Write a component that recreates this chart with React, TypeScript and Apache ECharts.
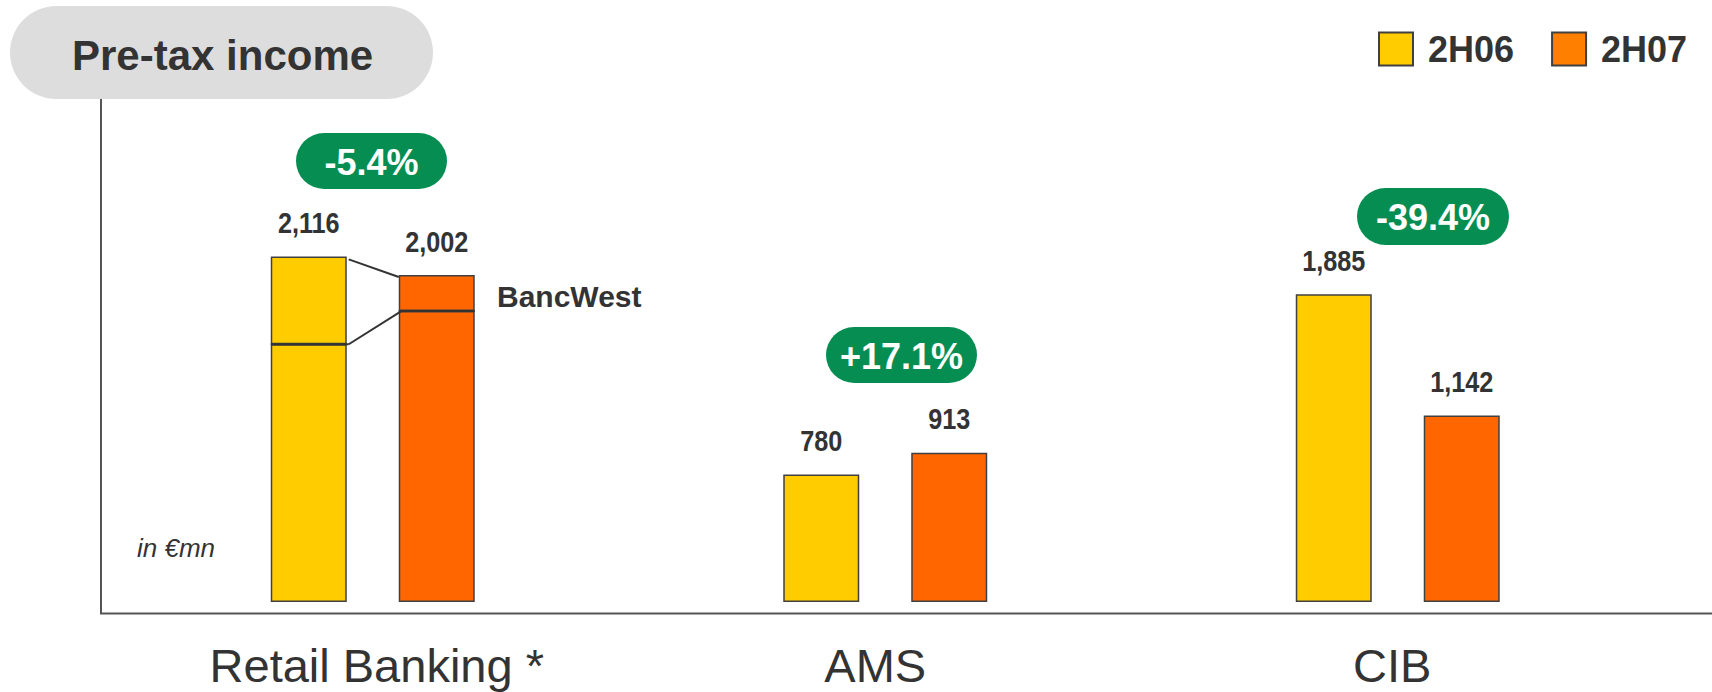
import React, { useEffect, useRef } from "react";
import * as echarts from "echarts";

const categories = ["Retail Banking *", "AMS", "CIB"];
const h06Total = [2116, 780, 1885];
const h07Total = [2002, 913, 1142];
const bancWest06: (number | null)[] = [538, null, null];
const bancWest07: (number | null)[] = [220, null, null];
const changes = ["-5.4%", "+17.1%", "-39.4%"];
const seriesNames = ["2H06", "2H07"];

const YELLOW = "#FFCC00";
const ORANGE = "#FF6600";
const LEGEND_ORANGE = "#FF8000";
const GREEN = "#068E52";
const DARK = "#333333";
const BORDER = "#404040";
const BAR_W = 76;
const BAR_GAP = 52;
const FONT = "'Liberation Sans', Arial, sans-serif";

const fmt = (v: number) => v.toLocaleString("en-US");

export default function App() {
  const ref = useRef<HTMLDivElement>(null);
  useEffect(() => {
    if (!ref.current) return;
    const chart = echarts.init(ref.current, null, { renderer: "svg" });
    const base06 = h06Total.map((t, i) => t - (bancWest06[i] ?? 0));
    const base07 = h07Total.map((t, i) => t - (bancWest07[i] ?? 0));
    const itemStyle = (c: string) => ({ color: c, borderColor: BORDER, borderWidth: 1.5 });
    const half = (BAR_W + BAR_GAP) / 2;
    const gapPct = ((BAR_GAP / BAR_W) * 100).toFixed(1) + "%";

    const pills = [
      { x: 296, y: 133, w: 151, h: 56 },
      { x: 826, y: 327, w: 151, h: 56 },
      { x: 1357, y: 188, w: 152, h: 57 },
    ];

    const catStyle = (pad: number[]) => ({
      fontFamily: FONT,
      fontSize: 47,
      lineHeight: 47,
      color: DARK,
      padding: pad,
    });

    const labelText = (text: string, x: number, y: number) => ({
      type: "text",
      x,
      y,
      scaleX: 0.87,
      style: {
        text,
        fontFamily: FONT,
        fontWeight: "bold",
        fontSize: 29,
        fill: DARK,
        align: "center",
        verticalAlign: "middle",
      },
    });

    chart.setOption({
      animation: false,
      grid: { left: 116.5, right: 58, top: 100, bottom: 78, containLabel: false },
      legend: {
        left: 1378,
        top: 31,
        padding: 0,
        itemWidth: 34,
        itemHeight: 33,
        itemGap: 37,
        icon: "rect",
        textStyle: {
          fontFamily: FONT,
          fontWeight: "bold",
          fontSize: 36,
          lineHeight: 36,
          color: DARK,
          padding: [0, 0, 0, 10],
        },
        data: [
          { name: seriesNames[0], itemStyle: { color: YELLOW, borderColor: BORDER, borderWidth: 2 } },
          { name: seriesNames[1], itemStyle: { color: LEGEND_ORANGE, borderColor: BORDER, borderWidth: 2 } },
        ],
      },
      xAxis: {
        type: "category",
        data: categories,
        axisLine: { show: false },
        axisTick: { show: false },
        axisLabel: {
          interval: 0,
          hideOverlap: false,
          margin: 28,
          fontFamily: FONT,
          fontSize: 47,
          lineHeight: 47,
          color: DARK,
          formatter: (v: string, i: number) => `{c${i}|${v}}`,
          rich: {
            c0: catStyle([0, 0, 0, 8]),
            c1: catStyle([0, 20, 0, 0]),
            c2: catStyle([0, 11, 0, 0]),
          },
        },
      },
      yAxis: {
        type: "value",
        min: -74,
        max: 3074,
        show: false,
        splitLine: { show: false },
      },
      series: [
        {
          type: "bar",
          name: seriesNames[0],
          stack: "h06",
          barWidth: BAR_W,
          barGap: gapPct,
          data: base06,
          itemStyle: itemStyle(YELLOW),
        },
        {
          type: "bar",
          name: seriesNames[0],
          stack: "h06",
          barWidth: BAR_W,
          barGap: gapPct,
          data: bancWest06.map((v) => (v == null ? "-" : v)),
          itemStyle: itemStyle(YELLOW),
        },
        {
          type: "bar",
          name: seriesNames[1],
          stack: "h07",
          barWidth: BAR_W,
          barGap: gapPct,
          data: base07,
          itemStyle: itemStyle(ORANGE),
        },
        {
          type: "bar",
          name: seriesNames[1],
          stack: "h07",
          barWidth: BAR_W,
          barGap: gapPct,
          data: bancWest07.map((v) => (v == null ? "-" : v)),
          itemStyle: itemStyle(ORANGE),
        },
        {
          type: "custom",
          name: "valueLabels",
          z: 6,
          data: categories.map((_, i) => [i, h06Total[i], h07Total[i]]),
          encode: { x: 0, y: 1 },
          renderItem: (params: any, api: any) => {
            const cat = api.value(0);
            const x0 = api.coord([cat, 0])[0];
            const y6 = api.coord([cat, api.value(1)])[1];
            const y7 = api.coord([cat, api.value(2)])[1];
            return {
              type: "group",
              children: [
                labelText(fmt(api.value(1)), x0 - half, y6 - 33.5),
                labelText(fmt(api.value(2)), x0 + half, y7 - 33.5),
              ],
            };
          },
        },
        {
          type: "custom",
          name: "connectors",
          z: 5,
          data: categories
            .map((_, i) =>
              bancWest06[i] == null ? null : [i, h06Total[i], h07Total[i], base06[i], base07[i]]
            )
            .filter((d) => d != null),
          encode: { x: 0, y: 1 },
          renderItem: (params: any, api: any) => {
            const cat = api.value(0);
            const x0 = api.coord([cat, 0])[0];
            const yT6 = api.coord([cat, api.value(1)])[1];
            const yT7 = api.coord([cat, api.value(2)])[1];
            const yS6 = api.coord([cat, api.value(3)])[1];
            const yS7 = api.coord([cat, api.value(4)])[1];
            const xa = x0 - half + BAR_W / 2 + 2;
            const xb = x0 + half - BAR_W / 2;
            const st = { stroke: "#333", lineWidth: 2 };
            return {
              type: "group",
              children: [
                { type: "line", shape: { x1: xa, y1: yT6 + 3, x2: xb, y2: yT7 + 2 }, style: st },
                { type: "line", shape: { x1: xa, y1: yS6, x2: xb + 3, y2: yS7 }, style: st },
                { type: "line", shape: { x1: x0 - half - BAR_W / 2, y1: yS6, x2: xa, y2: yS6 }, style: st },
                { type: "line", shape: { x1: xb, y1: yS7, x2: x0 + half + BAR_W / 2, y2: yS7 }, style: st },
              ],
            };
          },
        },
      ],
      graphic: [
        { type: "line", z: 1, shape: { x1: 101, y1: 97, x2: 101, y2: 614 }, style: { stroke: "#555", lineWidth: 2 } },
        { type: "line", z: 1, shape: { x1: 100, y1: 613.5, x2: 1712, y2: 613.5 }, style: { stroke: "#555", lineWidth: 2 } },
        {
          type: "rect",
          z: 10,
          shape: { x: 10, y: 6, width: 423, height: 93, r: 46.5 },
          style: { fill: "#DDDDDD" },
        },
        {
          type: "text",
          z: 11,
          x: 72,
          y: 55,
          style: {
            text: "Pre-tax income",
            fontFamily: FONT,
            fontWeight: "bold",
            fontSize: 42,
            fill: DARK,
            verticalAlign: "middle",
          },
        },
        ...pills.flatMap((p, i) => [
          {
            type: "rect",
            z: 10,
            shape: { x: p.x, y: p.y, width: p.w, height: p.h, r: p.h / 2 },
            style: { fill: GREEN },
          },
          {
            type: "text",
            z: 11,
            x: p.x + p.w / 2,
            y: p.y + p.h / 2 + 1,
            style: {
              text: changes[i],
              fontFamily: FONT,
              fontWeight: "bold",
              fontSize: 36,
              fill: "#FFFFFF",
              align: "center",
              verticalAlign: "middle",
            },
          },
        ]),
        {
          type: "text",
          z: 11,
          x: 497,
          y: 296.5,
          style: {
            text: "BancWest",
            fontFamily: FONT,
            fontWeight: "bold",
            fontSize: 30,
            fill: DARK,
            verticalAlign: "middle",
          },
        },
        {
          type: "text",
          z: 11,
          x: 137,
          y: 548,
          style: {
            text: "in €mn",
            fontFamily: FONT,
            fontStyle: "italic",
            fontSize: 26,
            fill: DARK,
            verticalAlign: "middle",
          },
        },
      ],
    });
    return () => chart.dispose();
  }, []);
  return (
    <div
      ref={ref}
      style={{ position: "fixed", left: 0, top: 0, width: 1712, height: 692, background: "#fff" }}
    />
  );
}
